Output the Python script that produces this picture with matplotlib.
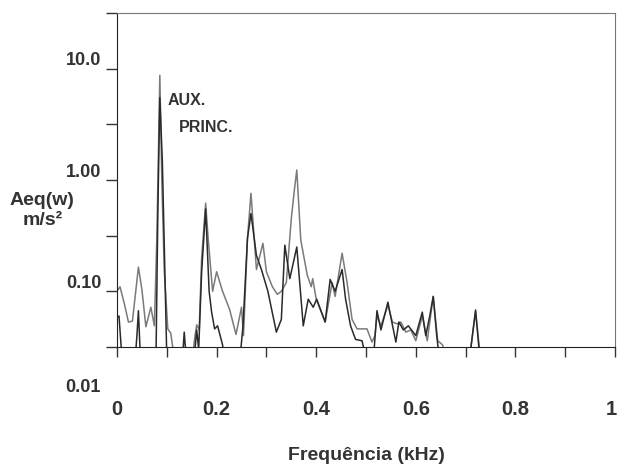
import numpy as np
import matplotlib
matplotlib.use('Agg')
import matplotlib.pyplot as plt
from matplotlib.transforms import ScaledTranslation

plt.rcParams['font.family'] = ['Liberation Sans', 'DejaVu Sans']
plt.rcParams['font.weight'] = 'bold'

# Frequency (kHz) and Aeq(w) in m/s^2 (values under ~0.03 are off-axis)
freq_princ = [0.000, 0.006, 0.014, 0.023, 0.031, 0.043, 0.050, 0.058, 0.068, 0.075,
              0.080, 0.086, 0.090, 0.095, 0.102, 0.108, 0.115, 0.130, 0.150, 0.155,
              0.160, 0.165, 0.170, 0.178, 0.183, 0.192, 0.200, 0.212, 0.226, 0.239,
              0.250, 0.254, 0.262, 0.269, 0.280, 0.293, 0.300, 0.312, 0.322, 0.330,
              0.340, 0.350, 0.356, 0.361, 0.369, 0.382, 0.390, 0.393, 0.400, 0.418,
              0.432, 0.438, 0.452, 0.462, 0.472, 0.482, 0.502, 0.512, 0.518, 0.522,
              0.530, 0.544, 0.553, 0.563, 0.570, 0.580, 0.590, 0.600, 0.613, 0.623,
              0.635, 0.644, 0.654, 0.660, 0.705, 0.710, 0.720, 0.728, 0.735, 1.000]
aeq_princ = [0.100, 0.110, 0.080, 0.053, 0.054, 0.165, 0.104, 0.048, 0.072, 0.049,
             0.30, 8.7, 1.0, 0.15, 0.046, 0.042, 0.025, 0.02, 0.02, 0.035,
             0.05, 0.045, 0.20, 0.62, 0.30, 0.10, 0.15, 0.10, 0.069, 0.041,
             0.072, 0.040, 0.30, 0.76, 0.157, 0.27, 0.15, 0.11, 0.094, 0.10,
             0.12, 0.45, 0.80, 1.23, 0.29, 0.14, 0.11, 0.13, 0.085, 0.053,
             0.12, 0.09, 0.22, 0.12, 0.056, 0.046, 0.046, 0.035, 0.040, 0.060,
             0.049, 0.075, 0.053, 0.051, 0.053, 0.043, 0.045, 0.036, 0.060, 0.036,
             0.090, 0.036, 0.033, 0.02, 0.02, 0.03, 0.066, 0.03, 0.02, 0.02]

freq_aux = [0.000, 0.004, 0.010, 0.035, 0.040, 0.043, 0.047, 0.078, 0.082, 0.086,
            0.091, 0.097, 0.100, 0.130, 0.135, 0.139, 0.155, 0.160, 0.164, 0.170,
            0.178, 0.185, 0.190, 0.196, 0.202, 0.212, 0.215, 0.245, 0.253, 0.262,
            0.269, 0.280, 0.290, 0.303, 0.320, 0.330, 0.337, 0.347, 0.361, 0.374,
            0.384, 0.394, 0.401, 0.418, 0.428, 0.438, 0.452, 0.459, 0.469, 0.479,
            0.492, 0.500, 0.515, 0.522, 0.530, 0.544, 0.553, 0.560, 0.566, 0.575,
            0.585, 0.600, 0.613, 0.620, 0.628, 0.635, 0.642, 0.650, 0.700, 0.708,
            0.720, 0.727, 0.735, 1.000]
aeq_aux = [0.058, 0.060, 0.025, 0.02, 0.040, 0.067, 0.025, 0.02, 0.50, 5.5,
           1.5, 0.10, 0.025, 0.02, 0.043, 0.025, 0.025, 0.045, 0.030, 0.15,
           0.55, 0.10, 0.065, 0.046, 0.049, 0.033, 0.025, 0.02, 0.049, 0.30,
           0.50, 0.21, 0.157, 0.10, 0.043, 0.056, 0.26, 0.13, 0.25, 0.049,
           0.085, 0.072, 0.085, 0.053, 0.128, 0.10, 0.157, 0.085, 0.049, 0.037,
           0.036, 0.025, 0.025, 0.067, 0.045, 0.080, 0.050, 0.035, 0.053, 0.045,
           0.049, 0.040, 0.065, 0.040, 0.060, 0.090, 0.040, 0.02, 0.02, 0.025,
           0.068, 0.03, 0.02, 0.02]

x_ticks = np.round(np.arange(0, 1.01, 0.1), 1)
x_labels = ['0', '', '0.2', '', '0.4', '', '0.6', '', '0.8', '', '1']
y_ticks = [10 ** (k / 2) for k in range(-3, 4)]
y_labels = ['', '0.10', '', '1.00', '', '10.0', '']

fig = plt.figure(figsize=(6.19, 4.65), dpi=100)
ax = fig.add_axes([117 / 619, 1 - 347 / 465, (615 - 117) / 619, (347 - 13) / 465])

ax.plot(freq_princ, aeq_princ, color='#7a7a7a', lw=1.1)
ax.plot(freq_aux, aeq_aux, color='#2a2a2a', lw=1.1)

ax.set_yscale('log')
ax.set_xlim(0, 1)
ax.set_ylim(10 ** -1.5, 10 ** 1.5)
ax.set_xticks(x_ticks)
ax.set_xticklabels(x_labels)
ax.set_yticks(y_ticks)
ax.set_yticklabels(y_labels)
ax.minorticks_off()

ax.tick_params(axis='x', direction='out', length=7, width=1, pad=31,
               labelsize=14.5, colors='#333333')
ax.tick_params(axis='y', direction='out', length=8, width=1, pad=3,
               labelsize=13, colors='#333333')
for lab in ax.get_yticklabels():
    lab.set_transform(lab.get_transform() + ScaledTranslation(0, 0.10, fig.dpi_scale_trans))
# keep the "1" inside the figure edge
last = ax.get_xticklabels()[-1]
last.set_transform(last.get_transform() + ScaledTranslation(-0.04, 0, fig.dpi_scale_trans))

for side in ['left', 'bottom']:
    ax.spines[side].set_color('#222222')
for side in ['top', 'right']:
    ax.spines[side].set_color('#777777')

# annotations
ax.text(0.101, 10 ** 0.71, 'AUX.', fontsize=11.5, fontweight='bold', color='#333333', va='center')
ax.text(0.125, 10 ** 0.47, 'PRINC.', fontsize=11.5, fontweight='bold', color='#333333', va='center')

# the odd "0.01" label sitting below the axis
fig.text(101 / 619, 1 - 387 / 465, '0.01', ha='right', va='center',
         fontsize=13, fontweight='bold', color='#333333')

fig.text(42 / 619, 1 - 200 / 465, 'Aeq(w)', ha='center', va='center',
         fontsize=14, fontweight='bold', color='#333333')
fig.text(43 / 619, 1 - 220 / 465, 'm/s²', ha='center', va='center',
         fontsize=14, fontweight='bold', color='#333333')
fig.text(366 / 619, 1 - 455 / 465, 'Frequência (kHz)', ha='center', va='center',
         fontsize=14, fontweight='bold', color='#333333')

fig.savefig('out.png', dpi=100, facecolor='white')
